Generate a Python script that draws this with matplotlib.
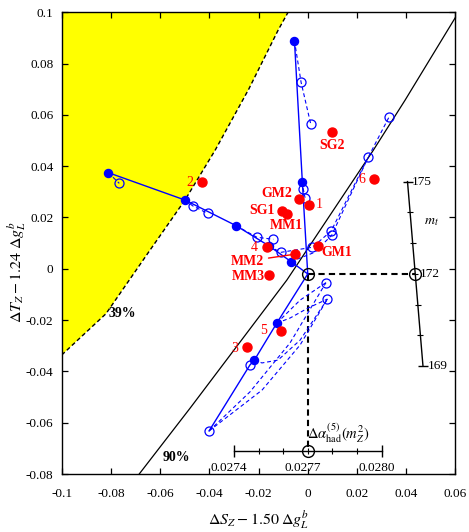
import numpy as np
import matplotlib
matplotlib.use("Agg")
import matplotlib.pyplot as plt

plt.rcParams['font.family'] = ['Liberation Serif', 'DejaVu Serif']
plt.rcParams['mathtext.fontset'] = 'stix'
plt.rcParams['axes.unicode_minus'] = False

# contours
c39_x = [-0.1, -0.082, -0.0641, -0.0499, -0.0376, -0.024, -0.012, -0.008]
c39_y = [-0.0336, -0.0175, 0.0073, 0.0268, 0.0463, 0.070, 0.0931, 0.1]
c90_x = [-0.0685, -0.0478, -0.0085, 0.0267, 0.0396, 0.0599]
c90_y = [-0.080, -0.0543, -0.0044, 0.0463, 0.0658, 0.0978]

# reference point (mt = 172, dalpha = 0.0277)
ref = (0.0, -0.002)

# blue solid paths (filled dots), starting at the reference point
solid_paths = [
    ([0.0, -0.0022, -0.0054], [-0.002, 0.0340, 0.0889]),
    ([0.0, -0.0068, -0.0157, -0.0291, -0.0499, -0.0811], [-0.002, 0.0028, 0.0089, 0.0168, 0.0268, 0.0375]),
    ([0.0, -0.0126, -0.0217], [-0.002, -0.0212, -0.0356]),
]
solid_tail_x = [-0.0217, -0.0235, -0.0401]
solid_tail_y = [-0.0356, -0.0375, -0.0632]

# blue dashed paths
dashed_paths = [
    ([-0.0054, -0.0027, 0.0012], [0.0889, 0.0727, 0.0565]),
    ([-0.0022, -0.0018, -0.0011], [0.0340, 0.0310, 0.0277]),
    ([-0.0811, -0.0766], [0.0375, 0.0333]),
    ([-0.0499, -0.0467, -0.0407], [0.0268, 0.0245, 0.0216]),
    ([-0.0291, -0.0207, -0.0140], [0.0168, 0.0123, 0.0115]),
    ([-0.0157, -0.0110, 0.0019, 0.0095, 0.0246, 0.0330], [0.0089, 0.0064, 0.0084, 0.0147, 0.0435, 0.0591]),
    ([-0.0068, 0.0030, 0.0098, 0.0170, 0.0246], [0.0028, 0.0065, 0.0132, 0.0280, 0.0435]),
    ([-0.0126, -0.0031, 0.0074], [-0.0212, -0.0122, -0.0054]),
    ([-0.0126, -0.0072, 0.0001, 0.0080], [-0.0212, -0.0192, -0.0153, -0.0118]),
    ([-0.0217, -0.0186, -0.0121, -0.0031, 0.0080], [-0.0356, -0.0367, -0.0356, -0.0278, -0.0118]),
    ([-0.0401, -0.0235, -0.0072, 0.0074], [-0.0632, -0.0480, -0.0289, -0.0054]),
    ([-0.0401, -0.0186, -0.0031, 0.0080], [-0.0632, -0.0473, -0.0297, -0.0118]),
]
open_x = [-0.0027, 0.0012, -0.0018, -0.0011, -0.0766, -0.0467, -0.0407, -0.0207, -0.0140,
          -0.0110, 0.0019, 0.0095, 0.0098, 0.0246, 0.0330, 0.0074, 0.0080, -0.0235, -0.0401]
open_y = [0.0727, 0.0565, 0.0310, 0.0277, 0.0333, 0.0245, 0.0216, 0.0123, 0.0115,
          0.0064, 0.0084, 0.0147, 0.0132, 0.0435, 0.0591, -0.0054, -0.0118, -0.0375, -0.0632]

# red points
red_names = ['1', '2', '3', '4', '5', '6', 'SG2', 'GM2', 'SG1', 'MM1', 'MM2', 'MM3', 'GM1']
red_x = [0.0007, -0.0428, -0.0248, -0.0167, -0.0110, 0.0270, 0.0100, -0.0035, -0.0103, -0.0085, -0.0052, -0.0156, 0.0043]
red_y = [0.0249, 0.0337, -0.0304, 0.0084, -0.0242, 0.0349, 0.0535, 0.0271, 0.0227, 0.0212, 0.0057, -0.0024, 0.0090]
red_offsets = [(7, 0), (-9, 0), (-9, -1), (-9, 0), (-12, 0), (-9, 0),
               (0, -10), (-16, 4), (-15, 0), (0, -8), (-34, -5), (-15, -1), (13, -5)]

# side scales
mt_vals = [169, 170, 171, 172, 173, 174, 175]
mt_labels = [169, 172, 175]
da_vals = [0.0274, 0.0275, 0.0276, 0.0277, 0.0278, 0.0279, 0.0280]
da_labels = ['0.0274', '0.0277', '0.0280']

xticks = [-0.1, -0.08, -0.06, -0.04, -0.02, 0, 0.02, 0.04, 0.06]
xtick_labels = ['-0.1', '-0.08', '-0.06', '-0.04', '-0.02', '0', '0.02', '0.04', '0.06']
yticks = [-0.08, -0.06, -0.04, -0.02, 0, 0.02, 0.04, 0.06, 0.08, 0.1]
ytick_labels = ['-0.08', '-0.06', '-0.04', '-0.02', '0', '0.02', '0.04', '0.06', '0.08', '0.1']


def mt_pos(v):
    return 0.0437 - (v - 172) * 0.00105, ref[1] + (v - 172) * 0.012


def da_pos(v):
    return (v - 0.0277) * 100, -0.071


fig = plt.figure(figsize=(4.69, 5.32), dpi=100)
ax = fig.add_axes([0.1316, 0.109, 0.8393, 0.8679])

# yellow region
ax.fill(c39_x + [-0.1], c39_y + [0.1], color='#ffff00', lw=0, zorder=1)
ax.plot(c39_x, c39_y, color='k', ls=(0, (3, 2)), lw=1, zorder=2)
ax.plot(c90_x, c90_y, color='k', lw=0.9, zorder=2)

# reference lines
mx, my = mt_pos(172)
dx, dy = da_pos(0.0277)
ax.plot([ref[0], mx], [ref[1], my], color='k', ls=(0, (3, 2)), lw=1.5, zorder=3)
ax.plot([ref[0], dx], [ref[1], dy], color='k', ls=(0, (3, 2)), lw=1.5, zorder=3)
ax.plot([ref[0], mx, dx], [ref[1], my, dy], ls='none', marker='o', ms=8.5,
        mfc='none', mec='k', mew=1, zorder=6)

# mt scale
pts = [mt_pos(v) for v in mt_vals]
ax.plot([p[0] for p in pts], [p[1] for p in pts], color='k', lw=1)
ax.plot([p[0] for p in pts[1:-1]], [p[1] for p in pts[1:-1]], ls='none', marker='_', ms=4, color='k', mew=0.8)
ax.plot([pts[0][0], pts[-1][0]], [pts[0][1], pts[-1][1]], ls='none', marker='_', ms=7, color='k', mew=1)
for v in mt_labels:
    px, py = mt_pos(v)
    ax.text(px + 0.0018, py, str(v), fontsize=9.5, ha='left', va='center')
ax.text(0.0504, 0.0186, r'$m_t$', fontsize=10, ha='center', va='center')

# dalpha scale
pts = [da_pos(v) for v in da_vals]
ax.plot([p[0] for p in pts], [p[1] for p in pts], color='k', lw=1)
ax.plot([p[0] for p in pts[1:-1]], [p[1] for p in pts[1:-1]], ls='none', marker='|', ms=4, color='k', mew=0.8)
ax.plot([pts[0][0], pts[-1][0]], [pts[0][1], pts[-1][1]], ls='none', marker='|', ms=8, color='k', mew=1)
for lab in da_labels:
    px, py = da_pos(float(lab))
    ax.text(px - 0.002, py - 0.0067, lab, fontsize=9.5, ha='center', va='center')
ax.text(0.0124, -0.0641, r'$\Delta\alpha_{\rm had}^{(5)}(m_Z^2)$', fontsize=10.5, ha='center', va='center')

# blue model lines
for xs, ys in dashed_paths:
    ax.plot(xs, ys, color='#0000ff', ls=(0, (3.5, 2.5)), lw=0.8, zorder=4)
for xs, ys in solid_paths:
    ax.plot(xs, ys, color='#0000ff', lw=1, zorder=4)
    ax.plot(xs[1:], ys[1:], ls='none', marker='o', ms=5.8, color='#0000ff', zorder=5)
ax.plot(solid_tail_x, solid_tail_y, color='#0000ff', lw=1, zorder=4)
ax.plot(open_x, open_y, ls='none', marker='o', ms=6.5, mfc='none', mec='#0000ff', mew=0.9, zorder=5)

# red points
ax.plot(red_x, red_y, ls='none', marker='o', ms=6.5, color='#ff0000', zorder=7)
for name, x, y, off in zip(red_names, red_x, red_y, red_offsets):
    bold = not name.isdigit()
    kw = {}
    if name == 'MM2':
        kw['arrowprops'] = dict(arrowstyle='-', color='#ff0000', lw=1, shrinkA=1, shrinkB=3)
    ax.annotate(name, (x, y), xytext=off, textcoords='offset points', ha='center', va='center',
                color='#ff0000', fontsize=10, fontweight='bold' if bold else 'normal', zorder=8, **kw)

ax.text(-0.0754, -0.0173, '39%', fontsize=10, fontweight='bold', ha='center', va='center')
ax.text(-0.0533, -0.0736, '90%', fontsize=10, fontweight='bold', ha='center', va='center')

ax.set_xlim(-0.1, 0.06)
ax.set_ylim(-0.08, 0.1)
ax.set_xticks(xticks)
ax.set_xticklabels(xtick_labels)
ax.set_yticks(yticks)
ax.set_yticklabels(ytick_labels)
ax.tick_params(direction='in', top=True, right=True, length=4.5, width=0.9, labelsize=9.5)
ax.tick_params(axis='x', pad=10)
ax.tick_params(axis='y', pad=6)
for s in ax.spines.values():
    s.set_linewidth(1)

ax.set_xlabel(r'$\Delta S_Z - 1.50\;\Delta g_L^b$', fontsize=11.5)
ax.set_ylabel(r'$\Delta T_Z - 1.24\;\Delta g_L^b$', fontsize=11.5)
ax.xaxis.set_label_coords(0.5, -0.075)
ax.yaxis.set_label_coords(-0.085, 0.4375)

fig.savefig('out.png', dpi=100)
